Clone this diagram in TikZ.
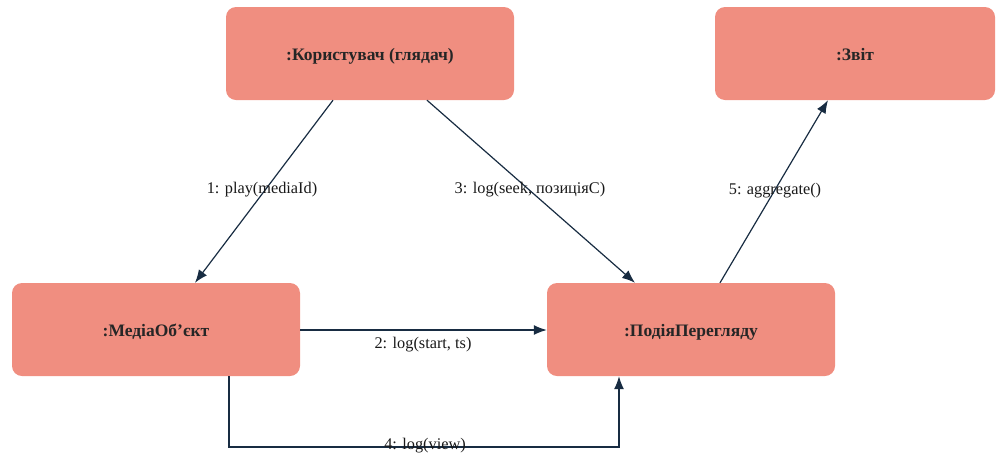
\documentclass[tikz,border=0pt]{standalone}
\usepackage{fontspec}
\setmainfont{Liberation Serif}
\usetikzlibrary{arrows.meta}
\definecolor{objfill}{RGB}{240,142,128}
\definecolor{linkcol}{RGB}{24,44,66}
\begin{document}
\begin{tikzpicture}[x=1pt,y=-1pt,
  obj/.style={rectangle, rounded corners=10pt, fill=objfill, draw=none,
    minimum width=288pt, minimum height=93pt, inner sep=0pt,
    text height=15pt, text depth=2pt,
    font=\fontsize{17.5}{21}\selectfont\bfseries, text=black!85},
  msg/.style={draw=linkcol, line width=1.2pt, -{Latex[length=13pt,width=10pt]}},
  lbl/.style={font=\fontsize{16.3}{19}\selectfont, text=black!90, inner sep=0pt}]
  \useasboundingbox (0,0) rectangle (1002,459);

  % objects
  \node[obj] (user)  at (370,53.5)  {:Користувач (глядач)};
  \node[obj, minimum width=280pt] (report) at (855,53.5) {:Звіт};
  \node[obj] (media) at (156,329.5) {:МедіаОб’єкт};
  \node[obj] (event) at (691,329.5) {:ПодіяПерегляду};

  % messages
  \draw[msg] (333,0 |- user.south) -- (195,0 |- media.north);
  \draw[msg] (427,0 |- user.south) -- (635,0 |- event.north);
  \draw[msg] (media.east |- 0,330) -- (event.west |- 0,330);
  \coordinate (c1) at (229,447);
  \coordinate (c2) at (619,447);
  \draw[msg] (229,0 |- media.south) -- (c1) -- (c2) -- (619,0 |- event.south);
  \draw[msg] (720,0 |- event.north) -- (828,0 |- report.south);

  % message labels
  \node[lbl] at (262,190) {1: play(mediaId)};
  \node[lbl] at (530,190) {3: log(seek, позиціяC)};
  \node[lbl] at (423,345) {2: log(start, ts)};
  \node[lbl] at (425,446) {4: log(view)};
  \node[lbl] at (775,191) {5: aggregate()};
\end{tikzpicture}
\end{document}
